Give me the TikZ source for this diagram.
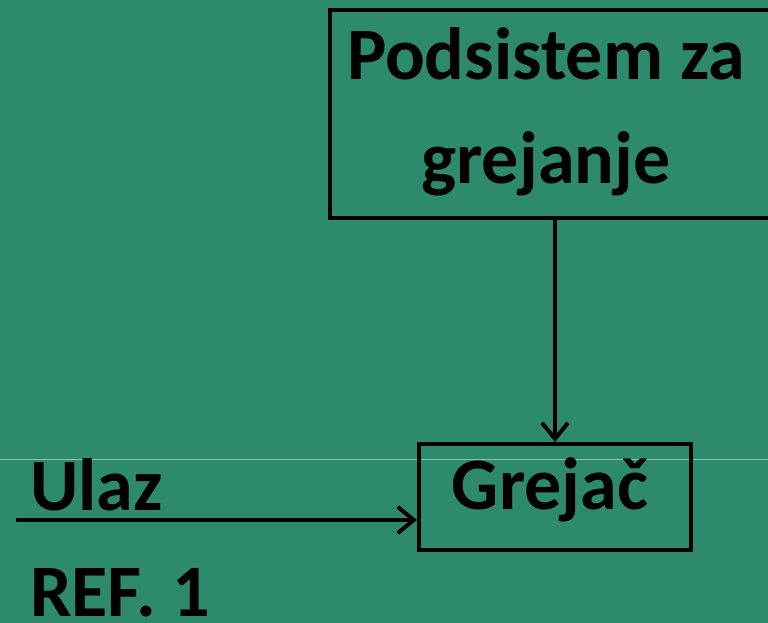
\documentclass[tikz,border=0pt]{standalone}
\usepackage{fontspec}
\setmainfont{Carlito}
\usetikzlibrary{arrows.meta}
\definecolor{bg}{HTML}{2D8A6D}
\definecolor{faint}{HTML}{8FBFAF}
\tikzset{
  lbl/.style={inner sep=0pt, font=\fontsize{74}{88}\selectfont\bfseries, text=black},
  boxx/.style={draw=black, line width=4pt, inner sep=0pt},
  conn/.style={draw=black, line width=4pt, -{Straight Barb[length=16pt,width=26pt,line width=4pt]}}
}
\begin{document}
\begin{tikzpicture}[x=1pt,y=-1pt]
\fill[bg] (0,0) rectangle (768,623);
\useasboundingbox (0,0) rectangle (768,623);
\draw[faint, line width=0.8pt] (0,459) -- (768,459);
\node[boxx, minimum width=450pt, minimum height=208pt] (top) at (555,114) {};
\node[boxx, minimum width=272pt, minimum height=106pt] (grejac) at (555,497) {};
\node[lbl, anchor=base] (t1) at (546,80) {Podsistem za};
\node[lbl, anchor=base] (t2) at (546,183) {grejanje};
\node[lbl, anchor=base] (t3) at (550,509) {Grejač};
\node[lbl, anchor=base west] (ulaz) at (30,510) {Ulaz};
\node[lbl, anchor=base west] (ref) at (30,616) {REF. 1};
\coordinate (in) at (16,520);
\draw[conn] (top.south) -- (grejac.north);
\draw[conn] (in) -- (in -| grejac.west);
\end{tikzpicture}
\end{document}
